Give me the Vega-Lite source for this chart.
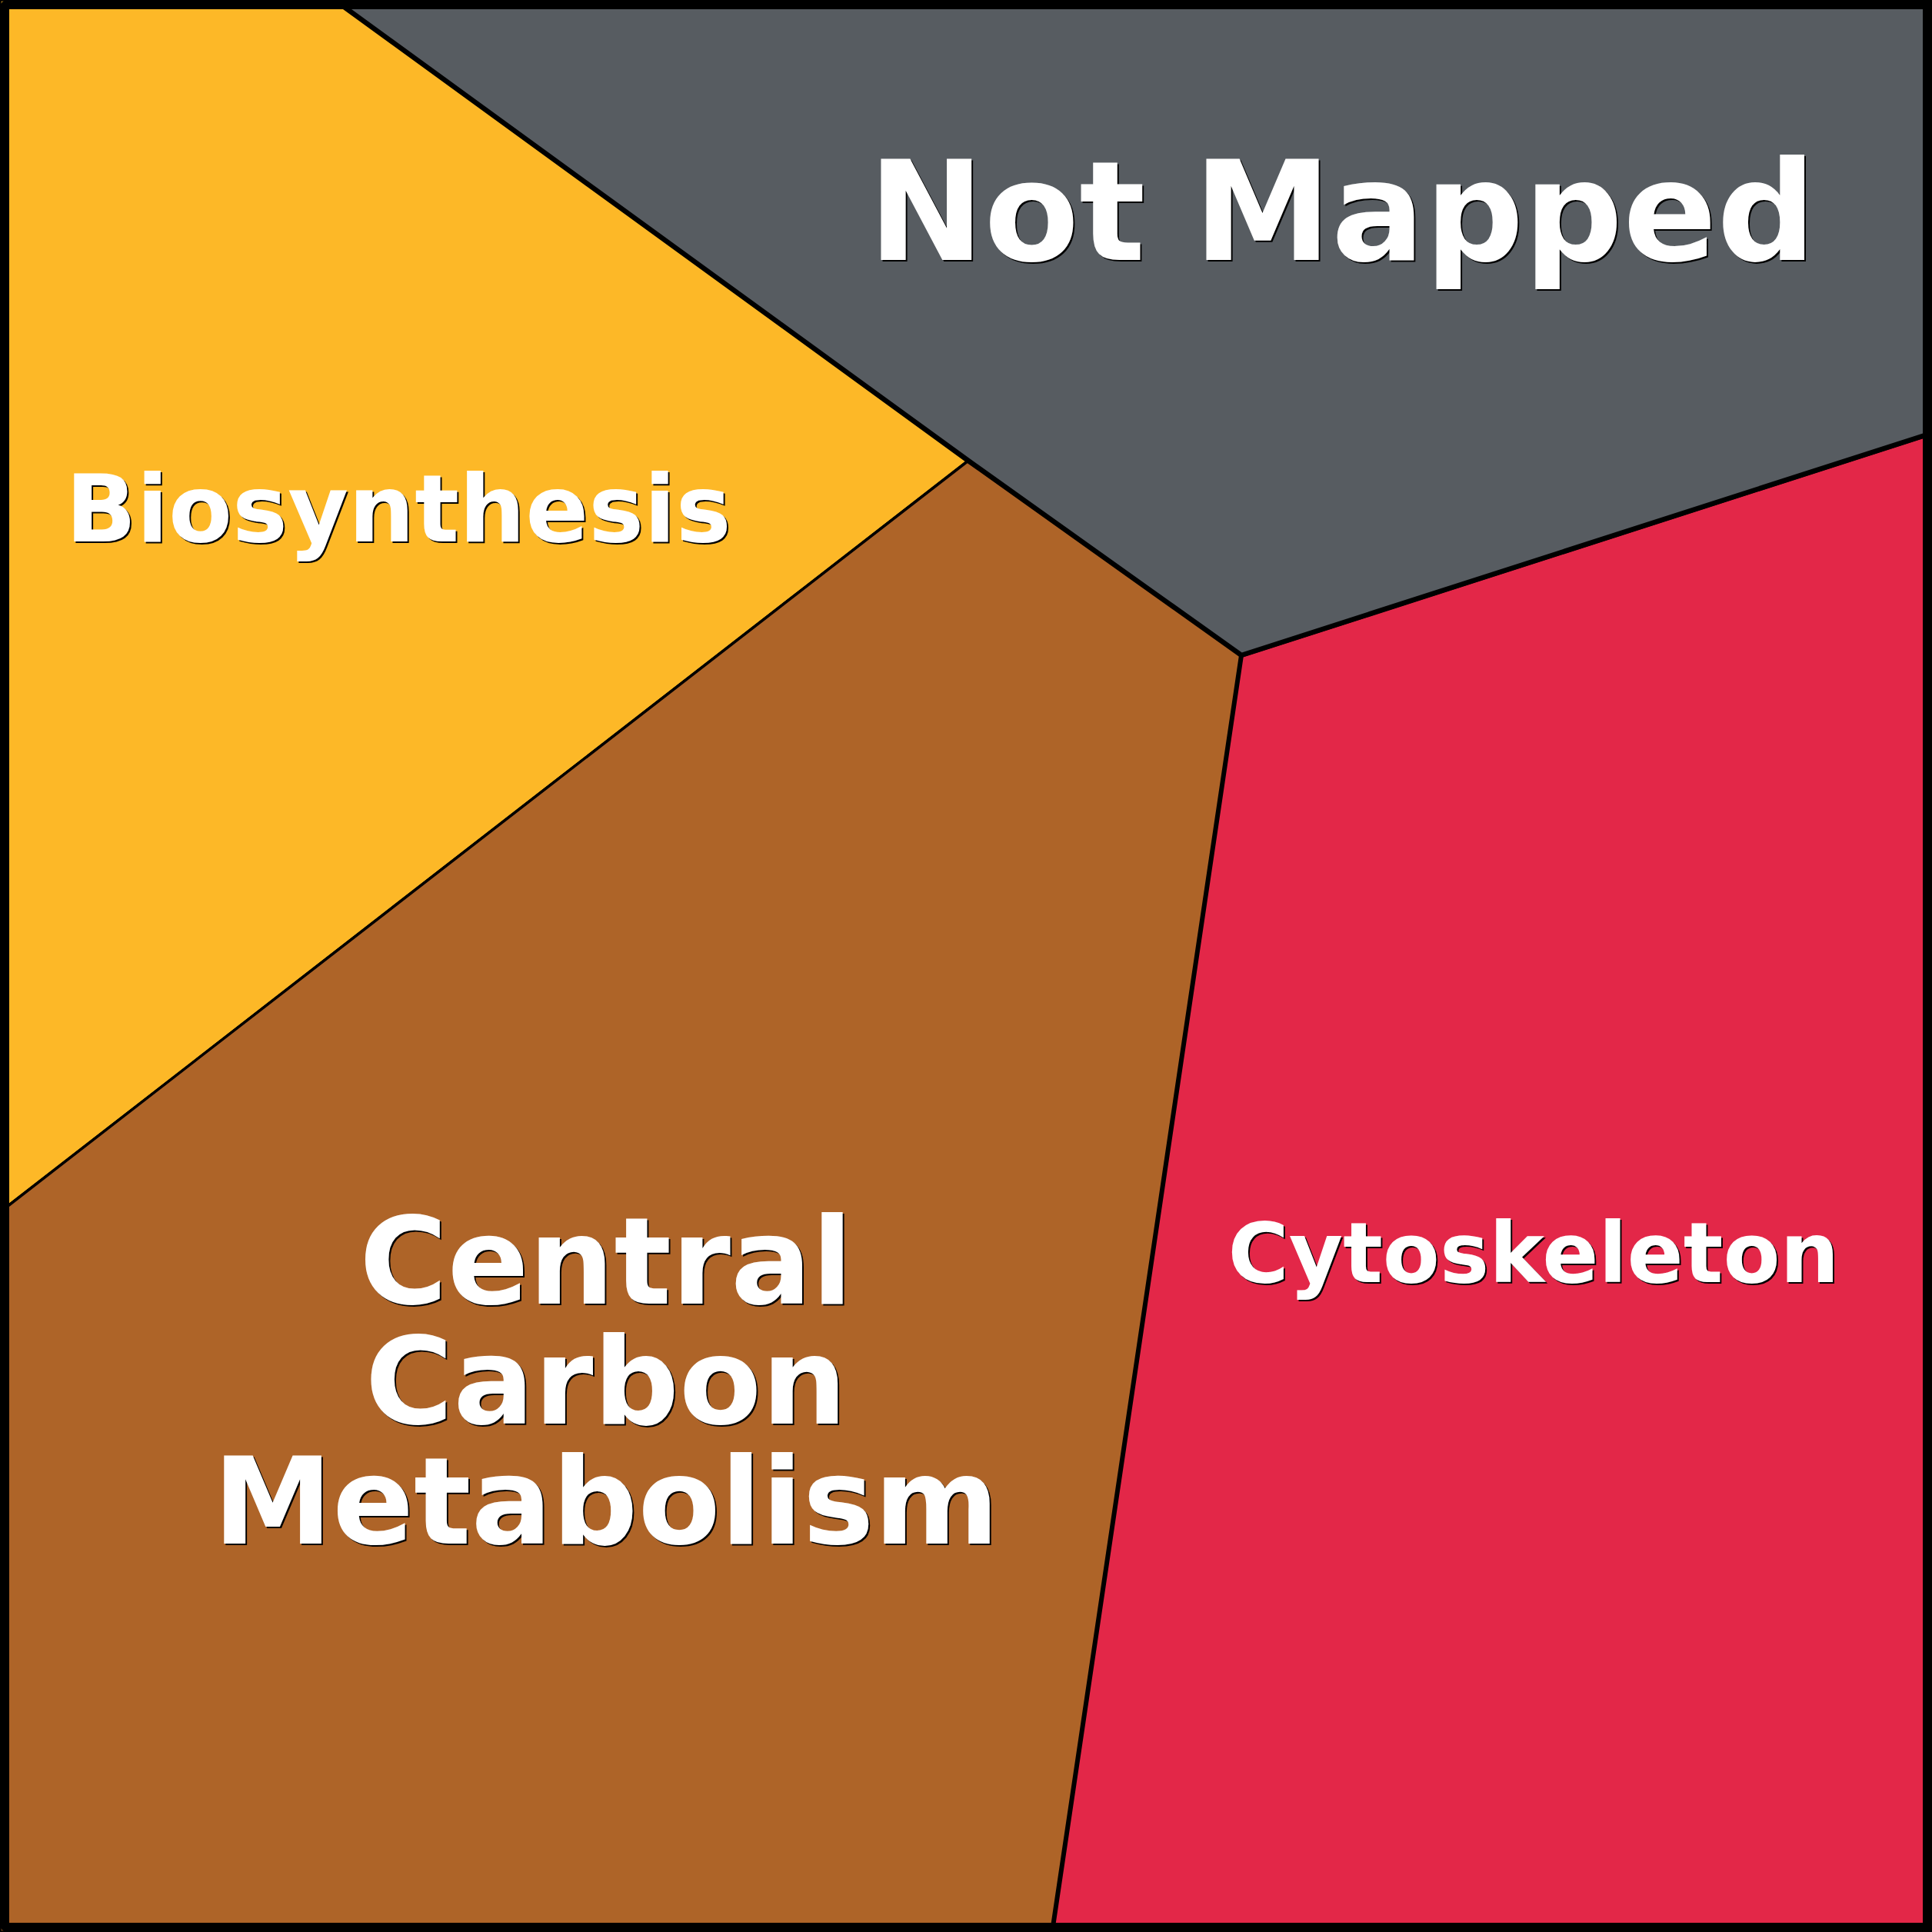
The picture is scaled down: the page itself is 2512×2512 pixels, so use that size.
{
  "$schema": "https://vega.github.io/schema/vega-lite/v6.json",
  "width": 2512,
  "height": 2512,
  "autosize": "none",
  "padding": 0,
  "background": "white",
  "config": {"view": {"stroke": null}},
  "datasets": {
    "cells": [
      {"cell": "Biosynthesis", "i": 0, "x": 0, "y": 0},
      {"cell": "Biosynthesis", "i": 1, "x": 435, "y": 0},
      {"cell": "Biosynthesis", "i": 2, "x": 1259, "y": 599},
      {"cell": "Biosynthesis", "i": 3, "x": 0, "y": 1576},
      {"cell": "Biosynthesis", "i": 4, "x": 0, "y": 0},
      {"cell": "Central Carbon Metabolism", "i": 0, "x": 0, "y": 2512},
      {"cell": "Central Carbon Metabolism", "i": 1, "x": 0, "y": 1576},
      {"cell": "Central Carbon Metabolism", "i": 2, "x": 1259, "y": 599},
      {"cell": "Central Carbon Metabolism", "i": 3, "x": 1614, "y": 852},
      {"cell": "Central Carbon Metabolism", "i": 4, "x": 1368, "y": 2512},
      {"cell": "Central Carbon Metabolism", "i": 5, "x": 0, "y": 2512},
      {"cell": "Cytoskeleton", "i": 0, "x": 2512, "y": 2512},
      {"cell": "Cytoskeleton", "i": 1, "x": 1368, "y": 2512},
      {"cell": "Cytoskeleton", "i": 2, "x": 1614, "y": 852},
      {"cell": "Cytoskeleton", "i": 3, "x": 2512, "y": 563},
      {"cell": "Cytoskeleton", "i": 4, "x": 2512, "y": 2512},
      {"cell": "Not Mapped", "i": 0, "x": 2512, "y": 0},
      {"cell": "Not Mapped", "i": 1, "x": 2512, "y": 563},
      {"cell": "Not Mapped", "i": 2, "x": 1614, "y": 852},
      {"cell": "Not Mapped", "i": 3, "x": 1259, "y": 599},
      {"cell": "Not Mapped", "i": 4, "x": 435, "y": 0},
      {"cell": "Not Mapped", "i": 5, "x": 2512, "y": 0}
    ],
    "labels": [
      {"label": "Not Mapped", "x": 1745, "y": 338},
      {"label": "Biosynthesis", "x": 518, "y": 704},
      {"label": "Cytoskeleton", "x": 1994, "y": 1667},
      {"label": "Central\nCarbon\nMetabolism", "x": 788, "y": 1695}
    ]
  },
  "encoding": {
    "x": {"field": "x", "type": "quantitative", "scale": {"domain": [0, 2512], "nice": false, "zero": false}, "axis": null},
    "y": {"field": "y", "type": "quantitative", "scale": {"domain": [0, 2512], "nice": false, "zero": false, "reverse": true}, "axis": null}
  },
  "layer": [
    {
      "data": {"name": "cells"},
      "transform": [{"filter": "datum.cell === 'Biosynthesis'"}],
      "mark": {"type": "line", "stroke": "black", "strokeWidth": 3.5},
      "encoding": {
        "order": {"field": "i", "type": "quantitative"},
        "fill": {"field": "cell", "type": "nominal", "legend": null,
          "scale": {"domain": ["Biosynthesis", "Central Carbon Metabolism", "Cytoskeleton", "Not Mapped"], "range": ["#FDB827", "#AE6428", "#E32748", "#575C61"]}}
      }
    },
    {
      "data": {"name": "cells"},
      "transform": [{"filter": "datum.cell === 'Central Carbon Metabolism'"}],
      "mark": {"type": "line", "stroke": "black", "strokeWidth": 3.5},
      "encoding": {
        "order": {"field": "i", "type": "quantitative"},
        "fill": {"field": "cell", "type": "nominal", "legend": null}
      }
    },
    {
      "data": {"name": "cells"},
      "transform": [{"filter": "datum.cell === 'Cytoskeleton'"}],
      "mark": {"type": "line", "stroke": "black", "strokeWidth": 6},
      "encoding": {
        "order": {"field": "i", "type": "quantitative"},
        "fill": {"field": "cell", "type": "nominal", "legend": null}
      }
    },
    {
      "data": {"name": "cells"},
      "transform": [{"filter": "datum.cell === 'Not Mapped'"}],
      "mark": {"type": "line", "stroke": "black", "strokeWidth": 6.5},
      "encoding": {
        "order": {"field": "i", "type": "quantitative"},
        "fill": {"field": "cell", "type": "nominal", "legend": null}
      }
    },
    {
      "data": {"name": "labels"},
      "mark": {"type": "text", "font": "DejaVu Sans", "fontWeight": "bold", "align": "center", "baseline": "alphabetic", "lineBreak": "\n", "lineHeight": 156, "color": "black", "dx": 2, "dy": 2},
      "encoding": {
        "text": {"field": "label", "type": "nominal"},
        "size": {"field": "label", "type": "nominal", "legend": null,
          "scale": {"type": "ordinal", "domain": ["Not Mapped", "Biosynthesis", "Cytoskeleton", "Central\nCarbon\nMetabolism"], "range": [180, 121, 108, 156]}}
      }
    },
    {
      "data": {"name": "labels"},
      "mark": {"type": "text", "font": "DejaVu Sans", "fontWeight": "bold", "align": "center", "baseline": "alphabetic", "lineBreak": "\n", "lineHeight": 156, "color": "white"},
      "encoding": {
        "text": {"field": "label", "type": "nominal"},
        "size": {"field": "label", "type": "nominal", "legend": null,
          "scale": {"type": "ordinal", "domain": ["Not Mapped", "Biosynthesis", "Cytoskeleton", "Central\nCarbon\nMetabolism"], "range": [180, 121, 108, 156]}}
      }
    },
    {
      "data": {"values": [{"x": 6, "y": 6, "x2": 2506, "y2": 2506}]},
      "mark": {"type": "rect", "fill": "transparent", "stroke": "black", "strokeWidth": 12, "cornerRadius": 3},
      "encoding": {
        "x": {"field": "x", "type": "quantitative"},
        "x2": {"field": "x2"},
        "y": {"field": "y", "type": "quantitative"},
        "y2": {"field": "y2"}
      }
    }
  ]
}
